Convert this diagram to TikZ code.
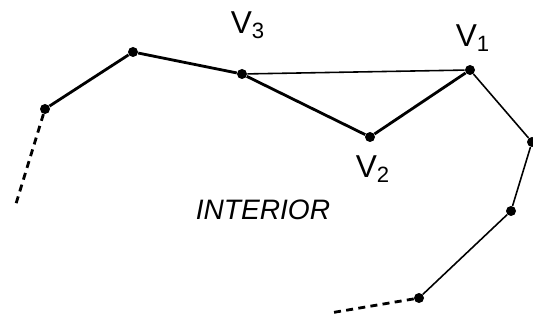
\documentclass[tikz,border=0pt]{standalone}
\usepackage{fontspec}
\setmainfont{Liberation Sans}
\usetikzlibrary{positioning}
\tikzset{
  vtx/.style={circle,fill=black,inner sep=0pt,minimum size=0.2cm},
  vlabel/.style={font=\fontsize{18}{20}\selectfont},
  thickedge/.style={line width=1.6pt},
  thinedge/.style={line width=0.9pt}
}

\begin{document}
\begin{tikzpicture}[x=0.02cm,y=-0.02cm]
\useasboundingbox (0,0) rectangle (533,320);

% vertices of the polygon
\node[vtx] (a) at (45,109) {};
\node[vtx] (b) at (133,52) {};
\node[vtx] (v3) at (242,74) {};
\node[vtx] (v1) at (470,70) {};
\node[vtx] (v2) at (370,137) {};
\node[vtx] (c) at (532,142) {};
\node[vtx] (d) at (511,211) {};
\node[vtx] (e) at (419,298) {};

% open ends
\coordinate (aend) at (15,207);
\coordinate (eend) at (330,313);

% edges
\draw[thickedge] (a) -- (b) -- (v3) -- (v2) -- (v1);
\draw[thinedge] (v3) -- (v1);
\draw[thinedge] (v1) -- (c) -- (d) -- (e);
\draw[thickedge,dash pattern=on 4pt off 3pt] (a) -- (aend);
\draw[thickedge,dash pattern=on 4pt off 3pt] (e) -- (eend);

% labels
\node[vlabel] (l3) at (248,25) {V\textsubscript{3}};
\node[vlabel] (l1) at (473,38) {V\textsubscript{1}};
\node[vlabel] (l2) at (373,169) {V\textsubscript{2}};
\node[font=\fontsize{16}{18}\selectfont\itshape] (int) at (263,210) {INTERIOR};
\end{tikzpicture}
\end{document}
